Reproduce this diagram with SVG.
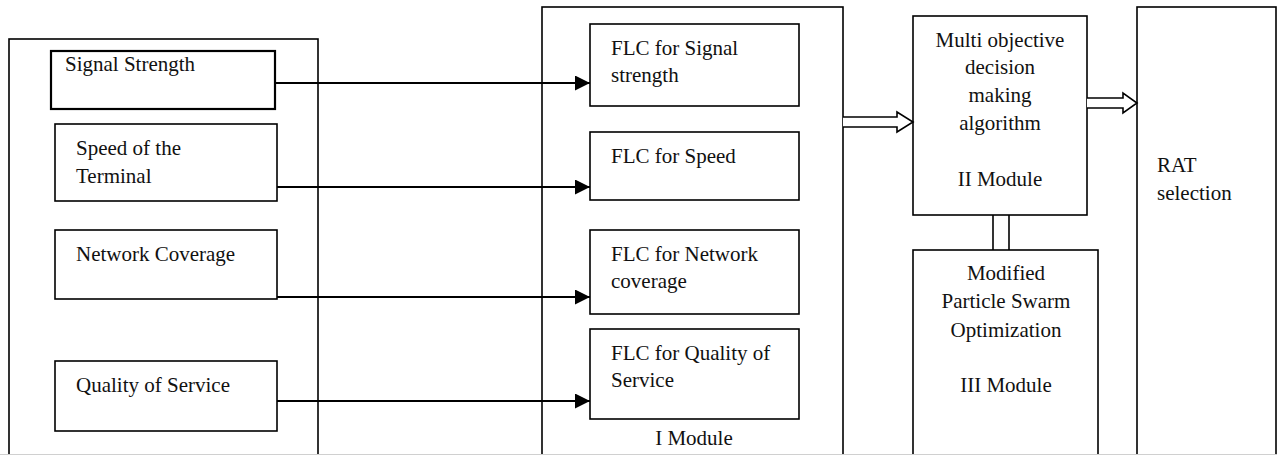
<svg xmlns="http://www.w3.org/2000/svg" width="1277" height="455" viewBox="0 0 1277 455">
<defs>
<style>
.box{fill:#fff;stroke:#000;stroke-width:1.6}
.thick{stroke-width:2.2}
.t{font-family:"Liberation Serif","Times New Roman",serif;font-size:21px;fill:#111}
.c{text-anchor:middle}
.ln{stroke:#000;stroke-width:2.2;fill:none}
.hollow{fill:#fff;stroke:#000;stroke-width:1.6;stroke-linejoin:miter}
</style>
<marker id="ah" markerWidth="15" markerHeight="15" refX="15" refY="7.5" orient="auto" markerUnits="userSpaceOnUse">
<path d="M0,0 L15,7.5 L0,15 Z" fill="#000"/>
</marker>
</defs>
<rect width="1277" height="455" fill="#fff"/>

<g id="inputs">
<rect class="box" x="9" y="39" width="309" height="430"/>
</g>
<g id="signal-strength">
<rect class="box thick" x="51" y="51" width="224" height="58"/>
<text class="t" x="65" y="71">Signal Strength</text>
</g>
<g id="speed">
<rect class="box" x="55" y="124" width="222" height="77"/>
<text class="t" x="76" y="155">Speed of the</text>
<text class="t" x="76" y="183">Terminal</text>
</g>
<g id="network-coverage">
<rect class="box" x="55" y="230" width="222" height="69"/>
<text class="t" x="76" y="261">Network Coverage</text>
</g>
<g id="qos">
<rect class="box" x="55" y="361" width="222" height="70"/>
<text class="t" x="76" y="392">Quality of Service</text>
</g>

<g id="module1">
<rect class="box" x="542" y="7" width="301" height="462"/>
<text class="t c" x="694" y="445">I Module</text>
</g>
<g id="flc-signal">
<rect class="box" x="590" y="24" width="209" height="82"/>
<text class="t" x="611" y="55">FLC for Signal</text>
<text class="t" x="611" y="82">strength</text>
</g>
<g id="flc-speed">
<rect class="box" x="590" y="132" width="209" height="68"/>
<text class="t" x="611" y="163">FLC for Speed</text>
</g>
<g id="flc-network">
<rect class="box" x="590" y="230" width="209" height="84"/>
<text class="t" x="611" y="261">FLC for Network</text>
<text class="t" x="611" y="288">coverage</text>
</g>
<g id="flc-qos">
<rect class="box" x="590" y="329" width="209" height="90"/>
<text class="t" x="611" y="360">FLC for Quality of</text>
<text class="t" x="611" y="387">Service</text>
</g>

<g id="module2">
<rect class="box" x="913" y="16" width="174" height="199"/>
<text class="t c" x="1000" y="47">Multi objective</text>
<text class="t c" x="1000" y="74">decision</text>
<text class="t c" x="1000" y="102">making</text>
<text class="t c" x="1000" y="130">algorithm</text>
<text class="t c" x="1000" y="186">II Module</text>
</g>
<g id="module3">
<rect class="box" x="913" y="250" width="185" height="219"/>
<text class="t c" x="1006" y="280">Modified</text>
<text class="t c" x="1006" y="308">Particle Swarm</text>
<text class="t c" x="1006" y="337">Optimization</text>
<text class="t c" x="1006" y="392">III Module</text>
</g>
<g id="rat">
<rect class="box" x="1137" y="7" width="139" height="462"/>
<text class="t" x="1157" y="172">RAT</text>
<text class="t" x="1157" y="200">selection</text>
</g>

<g id="connectors">
<line class="ln" x1="275" y1="83" x2="590" y2="83" marker-end="url(#ah)"/>
<line class="ln" x1="277" y1="187" x2="590" y2="187" marker-end="url(#ah)"/>
<line class="ln" x1="277" y1="297" x2="590" y2="297" marker-end="url(#ah)"/>
<line class="ln" x1="277" y1="401" x2="590" y2="401" marker-end="url(#ah)"/>
<path class="hollow" d="M843,117 H897 V112 L913,122 L897,132 V127 H843"/>
<path class="hollow" d="M1087,98 H1123 V93 L1137,103 L1123,113 V108 H1087"/>
<line class="ln" style="stroke-width:1.6" x1="993" y1="215" x2="993" y2="250"/>
<line class="ln" style="stroke-width:1.6" x1="1009" y1="215" x2="1009" y2="250"/>
</g>
<line x1="0" y1="454.5" x2="1277" y2="454.5" stroke="#d0d0d0" stroke-width="1"/>
</svg>
